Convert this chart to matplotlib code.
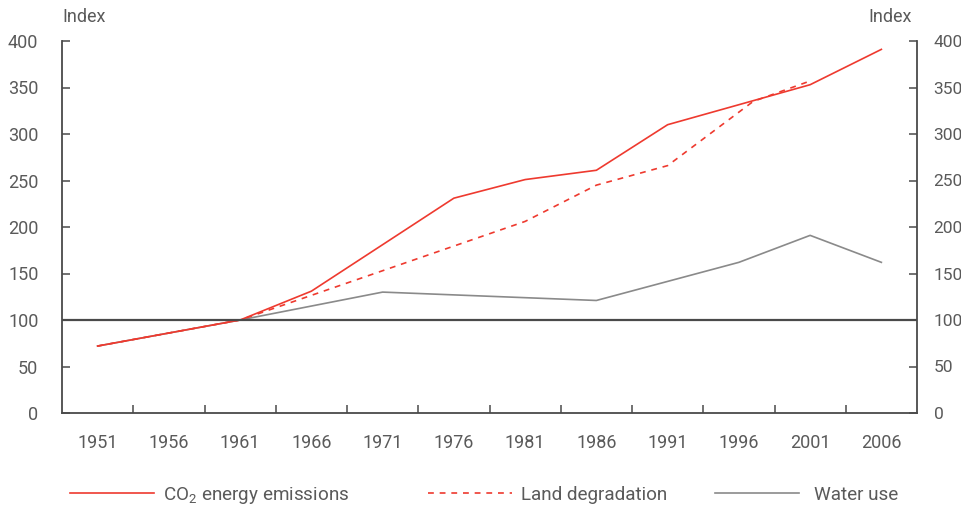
import matplotlib
matplotlib.use("Agg")
import matplotlib.pyplot as plt
import matplotlib.transforms as mtrans
from matplotlib.ticker import FixedLocator

# ---- data ----
co2_years = [1951, 1961, 1966, 1976, 1981, 1986, 1991, 2001, 2006]
co2_vals = [72, 100, 131, 231, 251, 261, 310, 353, 391]

land_years = [1951, 1961, 1981, 1986, 1991, 1997, 2001]
land_vals = [72, 100, 206, 245, 266, 335, 357]

water_years = [1951, 1961, 1971, 1986, 1996, 2001, 2006]
water_vals = [72, 100, 130, 121, 162, 191, 162]

x_labels = [1951, 1956, 1961, 1966, 1971, 1976, 1981, 1986, 1991, 1996, 2001, 2006]
y_ticks = [0, 50, 100, 150, 200, 250, 300, 350, 400]
baseline = 100

# ---- style ----
plt.rcParams['font.family'] = ['Roboto', 'DejaVu Sans']
plt.rcParams['mathtext.fontset'] = 'custom'
plt.rcParams['mathtext.rm'] = 'Roboto'
plt.rcParams['mathtext.default'] = 'regular'
TXT = '#5a5a5a'
AX = '#4a4a4a'
RED = '#ee3a2f'
GRAY = '#8a8a8a'
FS = 13
W = 'normal'

fig = plt.figure(figsize=(9.62, 5.09), dpi=100)
ax = fig.add_axes([62/962, 1-413/509, (917-62)/962, (413-41)/509])

l1, = ax.plot(co2_years, co2_vals, color=RED, lw=1.2, zorder=3)
l2, = ax.plot(land_years, land_vals, color=RED, lw=1.2, dashes=(3.5, 3.5), zorder=3)
l3, = ax.plot(water_years, water_vals, color=GRAY, lw=1.2, zorder=2)
ax.axhline(baseline, color=AX, lw=1.6, zorder=4)

ax.set_xlim(x_labels[0]-2.5, x_labels[-1]+2.5)
ax.set_ylim(0, 400)

ax.set_xticks(x_labels)
ax.set_xticklabels([str(v) for v in x_labels])
ax.xaxis.set_minor_locator(FixedLocator([v+2.5 for v in x_labels[:-1]]))
ax.tick_params(axis='x', which='major', length=0, pad=15, labelsize=FS, labelcolor=TXT)
ax.tick_params(axis='x', which='minor', direction='in', length=5.5, width=1.1, color=AX)

ax.set_yticks(y_ticks)
ax.tick_params(axis='y', which='major', direction='in', length=5.5, width=1.1, color=AX,
               left=True, right=True, labelleft=True, labelright=True,
               labelsize=FS, labelcolor=TXT, pad=17)
off = mtrans.ScaledTranslation(-5/72, 0, fig.dpi_scale_trans)
for t in ax.yaxis.get_major_ticks():
    t.label2.set_transform(t.label2.get_transform() + off)
    t.label2.set_fontsize(12.5)

for s in ['left', 'right', 'bottom']:
    ax.spines[s].set_color(AX)
    ax.spines[s].set_linewidth(1.3)
ax.spines['top'].set_visible(False)

for lab in ax.get_xticklabels() + ax.get_yticklabels():
    lab.set_fontweight(W)

ax.text(0, 1.064, 'Index', transform=ax.transAxes, ha='left', va='center',
        fontsize=FS, color=TXT, fontweight=W)
ax.text(0.994, 1.064, 'Index', transform=ax.transAxes, ha='right', va='center',
        fontsize=FS, color=TXT, fontweight=W)

# legends
labels = [r'CO$_2$ energy emissions', 'Land degradation', 'Water use']
handles = [l1, l2, l3]
xs = [70, 428, 715]
pads = [0.45, 0.45, 0.8]
for h, lb, x0, p in zip(handles, labels, xs, pads):
    leg = fig.legend([h], [lb], loc='center left', bbox_to_anchor=(x0/962, 1-495/509),
                     frameon=False, borderpad=0, borderaxespad=0, handlelength=4.45,
                     handletextpad=p, prop={'size': 13.6, 'weight': W})
    for t in leg.get_texts():
        t.set_color(TXT)

fig.savefig('out.png', dpi=100)
